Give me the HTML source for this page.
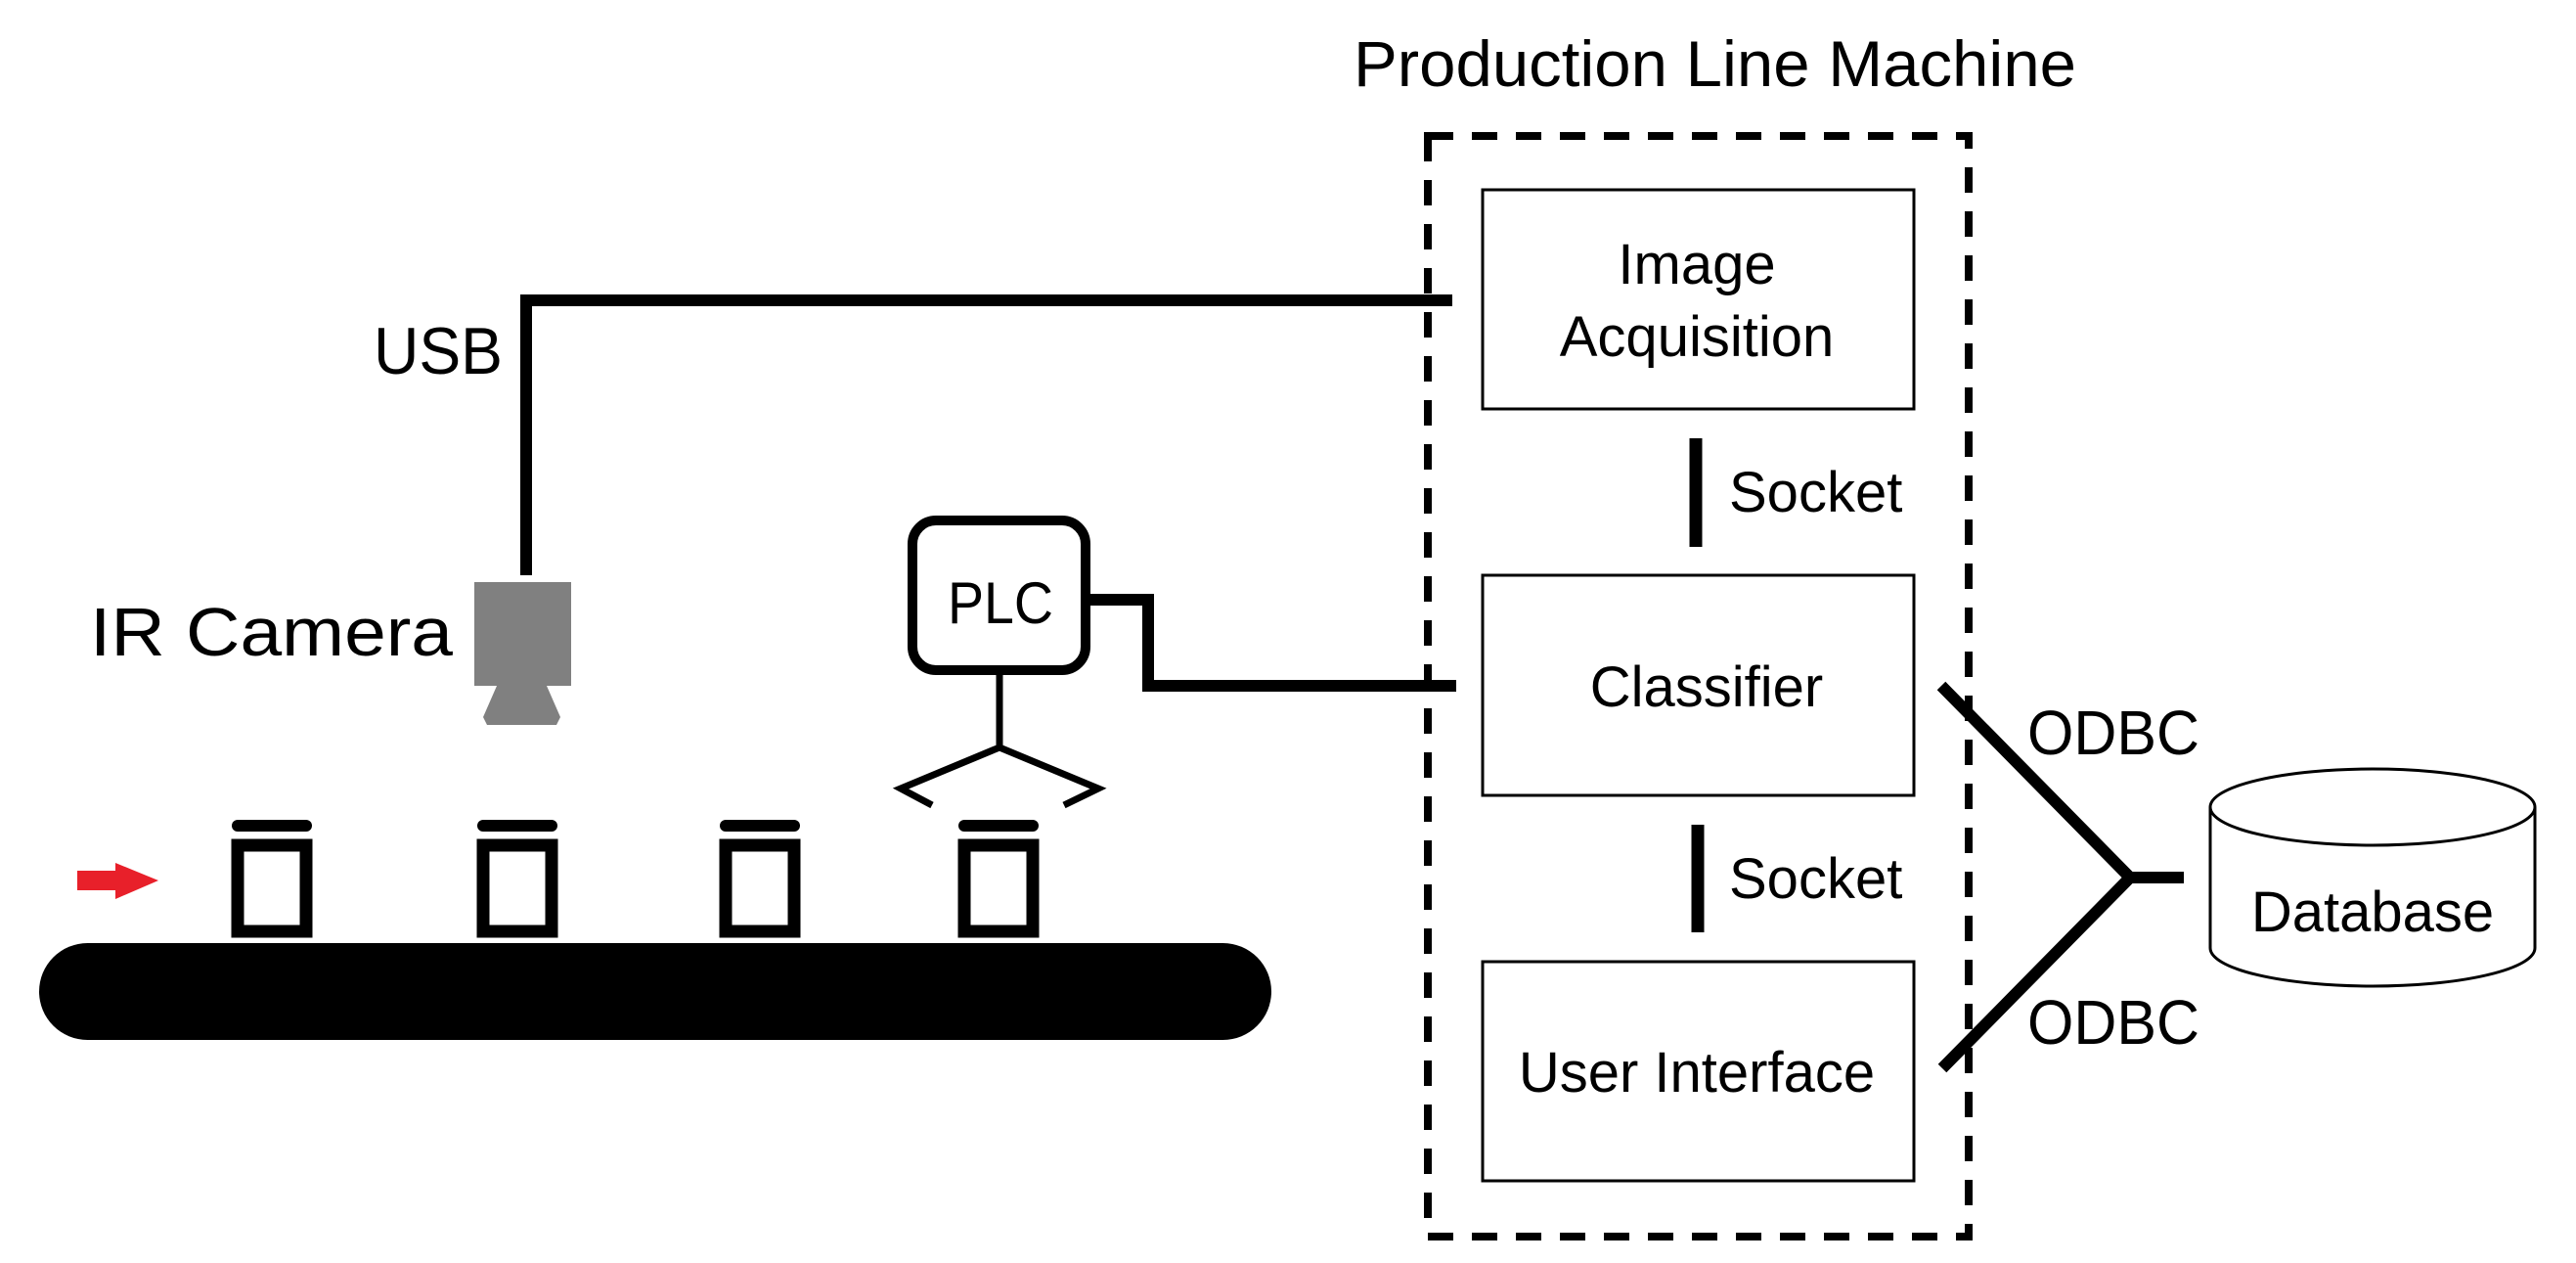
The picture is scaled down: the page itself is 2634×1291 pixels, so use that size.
<!DOCTYPE html>
<html><head><meta charset="utf-8"><style>html,body{margin:0;padding:0;background:#fff}svg{display:block}</style></head>
<body>
<svg width="2634" height="1291" viewBox="0 0 2634 1291" xmlns="http://www.w3.org/2000/svg" font-family="Liberation Sans, sans-serif">
<rect width="2634" height="1291" fill="#fff"/>
<!-- title -->
<text x="1384" y="88" font-size="66" textLength="739" lengthAdjust="spacingAndGlyphs">Production Line Machine</text>
<!-- dashed box -->
<rect x="1460" y="139" width="553" height="1125" fill="none" stroke="#000" stroke-width="8" stroke-dasharray="26,19"/>
<!-- boxes -->
<rect x="1516" y="194" width="441" height="224" fill="#fff" stroke="#000" stroke-width="3"/>
<rect x="1516" y="588" width="441" height="225" fill="#fff" stroke="#000" stroke-width="3"/>
<rect x="1516" y="983" width="441" height="224" fill="#fff" stroke="#000" stroke-width="3"/>
<g font-size="58" text-anchor="middle">
<text x="1735" y="290">Image</text>
<text x="1735" y="364">Acquisition</text>
<text x="1745" y="722">Classifier</text>
<text x="1735" y="1116">User Interface</text>
</g>
<!-- sockets -->
<line x1="1734" y1="448" x2="1734" y2="559" stroke="#000" stroke-width="13"/>
<line x1="1736" y1="843" x2="1736" y2="953" stroke="#000" stroke-width="13"/>
<text x="1768" y="523" font-size="58">Socket</text>
<text x="1768" y="918" font-size="58">Socket</text>
<!-- USB line -->
<polyline points="538,588 538,307 1485,307" fill="none" stroke="#000" stroke-width="12"/>
<text x="382" y="382" font-size="68" textLength="132" lengthAdjust="spacingAndGlyphs">USB</text>
<text x="92" y="670" font-size="70" textLength="371" lengthAdjust="spacingAndGlyphs">IR Camera</text>
<!-- camera -->
<rect x="485" y="595" width="99" height="106" fill="#808080"/>
<polygon points="508,701 559,701 573,733 569,741 498,741 494,733" fill="#808080"/>
<!-- PLC -->
<rect x="933" y="532" width="177" height="153" rx="24" fill="#fff" stroke="#000" stroke-width="10"/>
<text x="1023" y="637" font-size="60" text-anchor="middle" textLength="108" lengthAdjust="spacingAndGlyphs">PLC</text>
<polyline points="1115,613 1174,613 1174,701 1489,701" fill="none" stroke="#000" stroke-width="12"/>
<line x1="1022" y1="690" x2="1022" y2="764" stroke="#000" stroke-width="7"/>
<polyline points="953,823 921,806 1022,764 1123,806 1088,823" fill="none" stroke="#000" stroke-width="7"/>
<!-- items -->
<g fill="none" stroke="#000" stroke-width="13">
<rect x="243" y="864" width="70" height="88"/>
<rect x="494" y="864" width="70" height="88"/>
<rect x="742" y="864" width="70" height="88"/>
<rect x="986" y="864" width="70" height="88"/>
</g>
<g fill="#000">
<rect x="237" y="838" width="82" height="12" rx="6"/>
<rect x="488" y="838" width="82" height="12" rx="6"/>
<rect x="736" y="838" width="82" height="12" rx="6"/>
<rect x="980" y="838" width="82" height="12" rx="6"/>
<rect x="40" y="964" width="1260" height="99" rx="49.5"/>
</g>
<!-- red arrow -->
<polygon points="79,890 118,890 118,882 162,900 118,919 118,910 79,910" fill="#e8202a"/>
<!-- ODBC -->
<polyline points="1985,701 2178,897 1986,1092" fill="none" stroke="#000" stroke-width="12"/>
<line x1="2178" y1="897" x2="2233" y2="897" stroke="#000" stroke-width="12"/>
<text x="2073" y="771" font-size="64" textLength="176" lengthAdjust="spacingAndGlyphs">ODBC</text>
<text x="2073" y="1067" font-size="64" textLength="176" lengthAdjust="spacingAndGlyphs">ODBC</text>
<!-- database -->
<path d="M2260,825 L2260,969 A166,39 0 0 0 2592,969 L2592,825" fill="#fff" stroke="#000" stroke-width="3"/>
<ellipse cx="2426" cy="825" rx="166" ry="39" fill="#fff" stroke="#000" stroke-width="3"/>
<text x="2426" y="952" font-size="58" text-anchor="middle">Database</text>
</svg>
</body></html>
